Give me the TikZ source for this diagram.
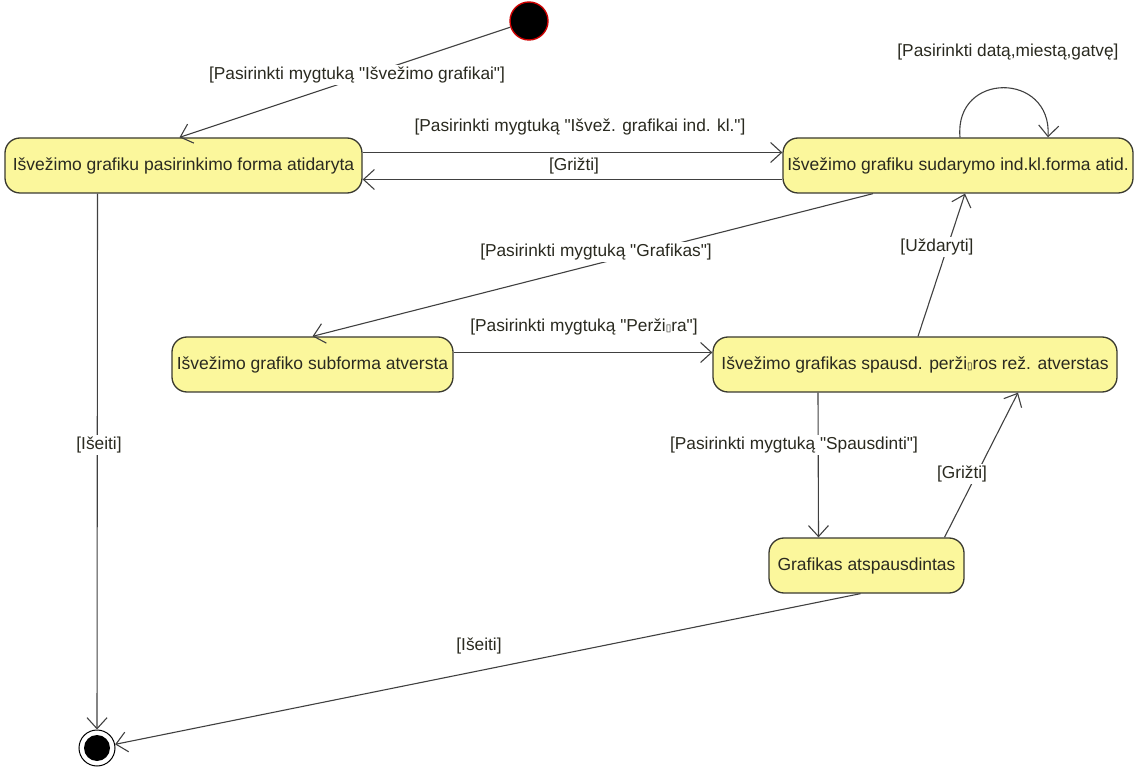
\documentclass[tikz,border=0pt]{standalone}
\usepackage{fontspec}
\setmainfont{Liberation Sans}[Ligatures=TeXOff]
\newfontfamily\boxfont{DejaVu Sans}
\usetikzlibrary{arrows.meta,calc}
\definecolor{stfill}{HTML}{FBF79C}
\definecolor{stline}{HTML}{3A3A30}
\definecolor{edge}{HTML}{404040}
\definecolor{txt}{HTML}{2A2A20}
\newcommand{\miss}{{\boxfont\fontsize{10}{10}\selectfont ▯}}
\begin{document}
\begin{tikzpicture}[x=1pt,y=-1pt,
  state/.style={draw=stline, line width=1.3pt, fill=stfill, rounded corners=15pt,
    minimum height=55pt, inner sep=0pt, text=txt, font=\fontsize{17.5}{20}\selectfont},
  tr/.style={draw=edge, line width=1.1pt, -{Straight Barb[length=11pt,width=20pt,line width=1.1pt]}},
  lbl/.style={text=txt, fill=white, font=\fontsize{17.3}{20}\selectfont, inner sep=1.5pt}]
\useasboundingbox (0,0) rectangle (1136,767);
% initial and final
\node[circle, fill=black, draw=red!80!black, line width=1.4pt, minimum size=38pt, inner sep=0pt] (init) at (529,21) {};
\node[circle, draw=black, line width=1pt, fill=white, minimum size=36pt, inner sep=0pt] (fin) at (97,748) {};
\node[circle, fill=black, minimum size=26pt, inner sep=0pt] (finin) at (fin) {};
% states
\node[state, minimum width=357pt] (A) at (183.5,165.5) {Išvežimo grafiku pasirinkimo forma atidaryta};
\node[state, minimum width=350pt] (B) at (958,165.5) {Išvežimo grafiku sudarymo ind.kl.forma atid.};
\node[state, minimum width=281pt] (C) at (312.5,364.5) {Išvežimo grafiko subforma atversta};
\node[state, minimum width=404pt] (D) at (915,364.5) {Išvežimo grafikas spausd. perži\miss ros rež. atverstas};
\node[state, minimum width=195pt] (E) at (866.5,565.5) {Grafikas atspausdintas};
% transitions
\draw[tr] (init) -- ($(A.north)+(-4,0)$);
\draw[tr] ($(A.east)+(0,-13)$) -- ($(B.west)+(0,-13)$);
\draw[tr] ($(B.west)+(0,14)$) -- ($(A.east)+(0,14)$);
\draw[tr] ($(B.north)+(2,0)$) .. controls ($(B.north)+(-4,-66)$) and ($(B.north)+(94,-66)$) .. ($(B.north)+(90,0)$);
\draw[tr] ($(B.south)+(-85,0)$) -- ($(C.north)+(0,0)$);
\draw[tr] ($(C.east)+(0,-12)$) -- ($(D.west)+(0,-12)$);
\draw[tr] ($(D.north)+(3,0)$) -- ($(B.south)+(7,0)$);
\draw[tr] ($(D.south)+(-97,0)$) -- ($(E.north)+(-48,0)$);
\draw[tr] ($(E.north)+(78,0)$) -- ($(D.south)+(103,0)$);
\draw[tr] ($(A.south)+(-86,0)$) -- (fin);
\draw[tr] ($(E.south)+(-6,0)$) -- (fin);
% labels
\node[lbl] (l1) at (357,75) {[Pasirinkti mygtuką "Išvežimo grafikai"]};
\node[lbl] (l2) at (580,127) {[Pasirinkti mygtuką "Išvež. grafikai ind. kl."]};
\node[lbl] (l3) at (574,166) {[Grižti]};
\node[lbl] (l4) at (1008,52) {[Pasirinkti datą,miestą,gatvę]};
\node[lbl] (l5) at (596,252) {[Pasirinkti mygtuką "Grafikas"]};
\node[lbl] (l6) at (584,327) {[Pasirinkti mygtuką "Perži\miss ra"]};
\node[lbl] (l7) at (937,247) {[Uždaryti]};
\node[lbl] (l8) at (794,445) {[Pasirinkti mygtuką "Spausdinti"]};
\node[lbl] (l9) at (962,474) {[Grižti]};
\node[lbl] (l10) at (99,445) {[Išeiti]};
\node[lbl] (l11) at (479,646) {[Išeiti]};
\end{tikzpicture}
\end{document}
